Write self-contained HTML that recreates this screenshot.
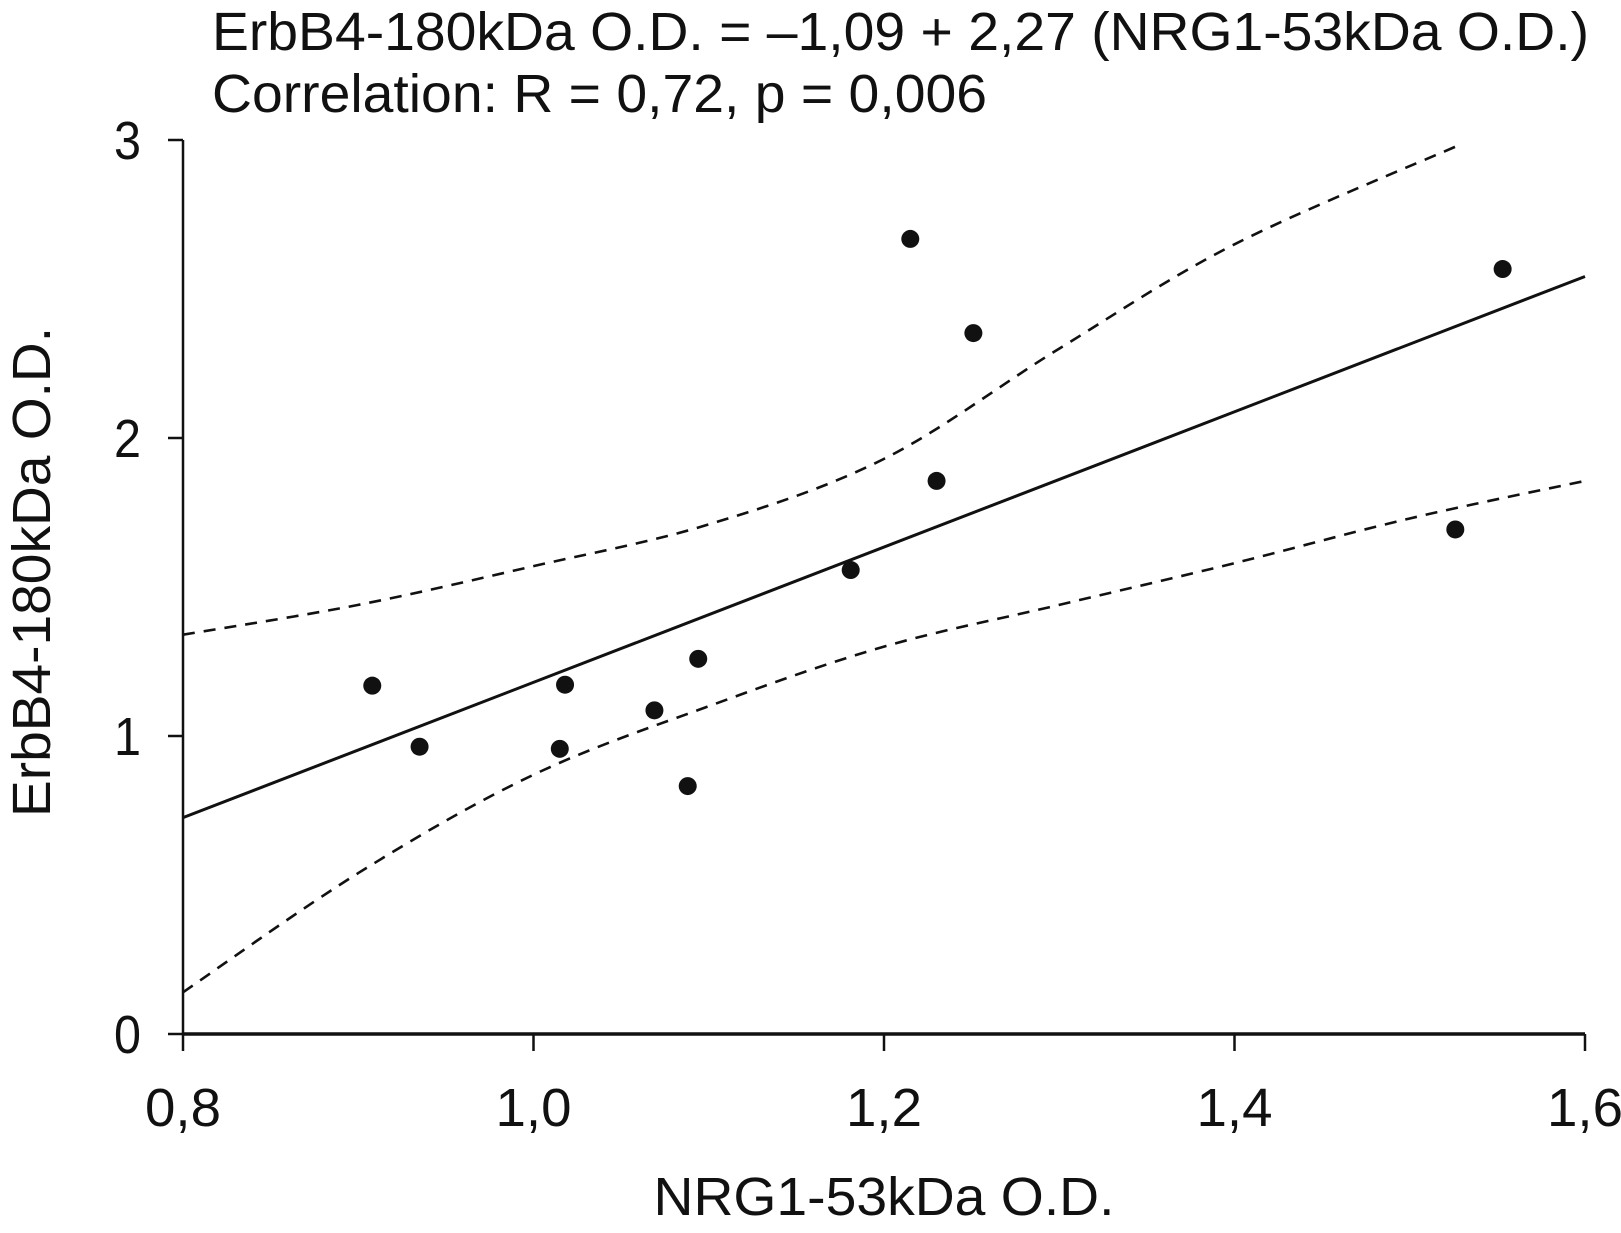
<!DOCTYPE html>
<html><head><meta charset="utf-8"><style>
html,body{margin:0;padding:0;background:#fff;}
svg{display:block;font-family:"Liberation Sans",Arial,sans-serif;}
</style></head><body>
<svg id="chart" width="1621" height="1233" viewBox="0 0 1621 1233" xmlns="http://www.w3.org/2000/svg">
<text x="212" y="50" font-size="54" textLength="1377" lengthAdjust="spacingAndGlyphs" fill="#111">ErbB4-180kDa O.D. = –1,09 + 2,27 (NRG1-53kDa O.D.)</text>
<text x="212" y="112" font-size="54" textLength="775" lengthAdjust="spacingAndGlyphs" fill="#111">Correlation: R = 0,72, p = 0,006</text>
<text transform="translate(50,572) rotate(-90)" text-anchor="middle" font-size="54" textLength="490" lengthAdjust="spacingAndGlyphs" fill="#111">ErbB4-180kDa O.D.</text>
<text x="884" y="1215" text-anchor="middle" font-size="54" textLength="461" lengthAdjust="spacingAndGlyphs" fill="#111">NRG1-53kDa O.D.</text>
<g id="axes"></g>
<g id="marks"></g>
</svg>
<script>
const xTicks=[0.8,1.0,1.2,1.4,1.6];
const xTickLabels=["0,8","1,0","1,2","1,4","1,6"];
const yTicks=[0,1,2,3];
const yTickLabels=["0","1","2","3"];
const pointsX=[0.908,0.935,1.015,1.018,1.069,1.088,1.094,1.181,1.215,1.230,1.251,1.526,1.553];
const pointsY=[1.169,0.964,0.957,1.172,1.086,0.832,1.259,1.557,2.668,1.856,2.352,1.693,2.567];
const fitIntercept=-1.09;
const fitSlope=2.27;
const upperBandX=[0.8,0.9,1.0,1.1,1.2,1.3,1.4,1.527];
const upperBandY=[1.34,1.44,1.57,1.71,1.93,2.30,2.65,2.98];
const lowerBandX=[0.8,0.9,1.0,1.1,1.2,1.3,1.4,1.5,1.6];
const lowerBandY=[0.14,0.54,0.87,1.10,1.30,1.44,1.58,1.73,1.856];

const NS="http://www.w3.org/2000/svg";
const X0=183,X1=1585,Y0=1034,Y1=140;
const xs=v=>X0+(v-0.8)/(1.6-0.8)*(X1-X0);
const ys=v=>Y0-(v-0)/(3-0)*(Y0-Y1);
function mk(tag,attrs,parent){const e=document.createElementNS(NS,tag);for(const k in attrs)e.setAttribute(k,attrs[k]);parent.appendChild(e);return e;}
const axes=document.getElementById('axes'),marks=document.getElementById('marks');

let e=mk('line',{x1:X0,y1:Y0,x2:X1,y2:Y0,stroke:'#111','stroke-width':3.5},axes);


e=mk('line',{x1:X0,y1:Y0,x2:X0,y2:Y1,stroke:'#111','stroke-width':2.5},axes);


xTicks.forEach((v,i)=>{
  let t=mk('line',{x1:xs(v),y1:Y0,x2:xs(v),y2:Y0+17,stroke:'#111','stroke-width':2.5},axes);
  
  
  let l=mk('text',{x:xs(v),y:1126,'text-anchor':'middle','font-size':54,textLength:76,lengthAdjust:'spacingAndGlyphs',fill:'#111'},axes);
  l.textContent=xTickLabels[i];
  
  
});
yTicks.forEach((v,i)=>{
  let t=mk('line',{x1:X0-15,y1:ys(v),x2:X0,y2:ys(v),stroke:'#111','stroke-width':2.5},axes);
  
  
  let l=mk('text',{x:141,y:ys(v)+19,'text-anchor':'end','font-size':54,textLength:27,lengthAdjust:'spacingAndGlyphs',fill:'#111'},axes);
  l.textContent=yTickLabels[i];
  
  
});
function bandPath(xa,ya){
  const p=xa.map((x,i)=>[xs(x),ys(ya[i])]);
  let d='M'+p[0][0]+','+p[0][1];
  for(let i=0;i<p.length-1;i++){
    const a=p[i-1]||p[i],b=p[i],c=p[i+1],f=p[i+2]||c;
    d+=' C'+(b[0]+(c[0]-a[0])/6)+','+(b[1]+(c[1]-a[1])/6)+' '+(c[0]-(f[0]-b[0])/6)+','+(c[1]-(f[1]-b[1])/6)+' '+c[0]+','+c[1];
  }
  return d;
}
e=mk('path',{d:bandPath(upperBandX,upperBandY),fill:'none',stroke:'#111','stroke-width':2.6,'stroke-dasharray':'12,9'},marks);


e=mk('path',{d:bandPath(lowerBandX,lowerBandY),fill:'none',stroke:'#111','stroke-width':2.6,'stroke-dasharray':'12,9'},marks);


e=mk('line',{x1:xs(0.8),y1:ys(fitIntercept+fitSlope*0.8),x2:xs(1.6),y2:ys(fitIntercept+fitSlope*1.6),stroke:'#111','stroke-width':3},marks);


pointsX.forEach((x,i)=>{
  let c=mk('circle',{cx:xs(x),cy:ys(pointsY[i]),r:9,fill:'#111'},marks);
  
  
});
</script>
</body></html>
